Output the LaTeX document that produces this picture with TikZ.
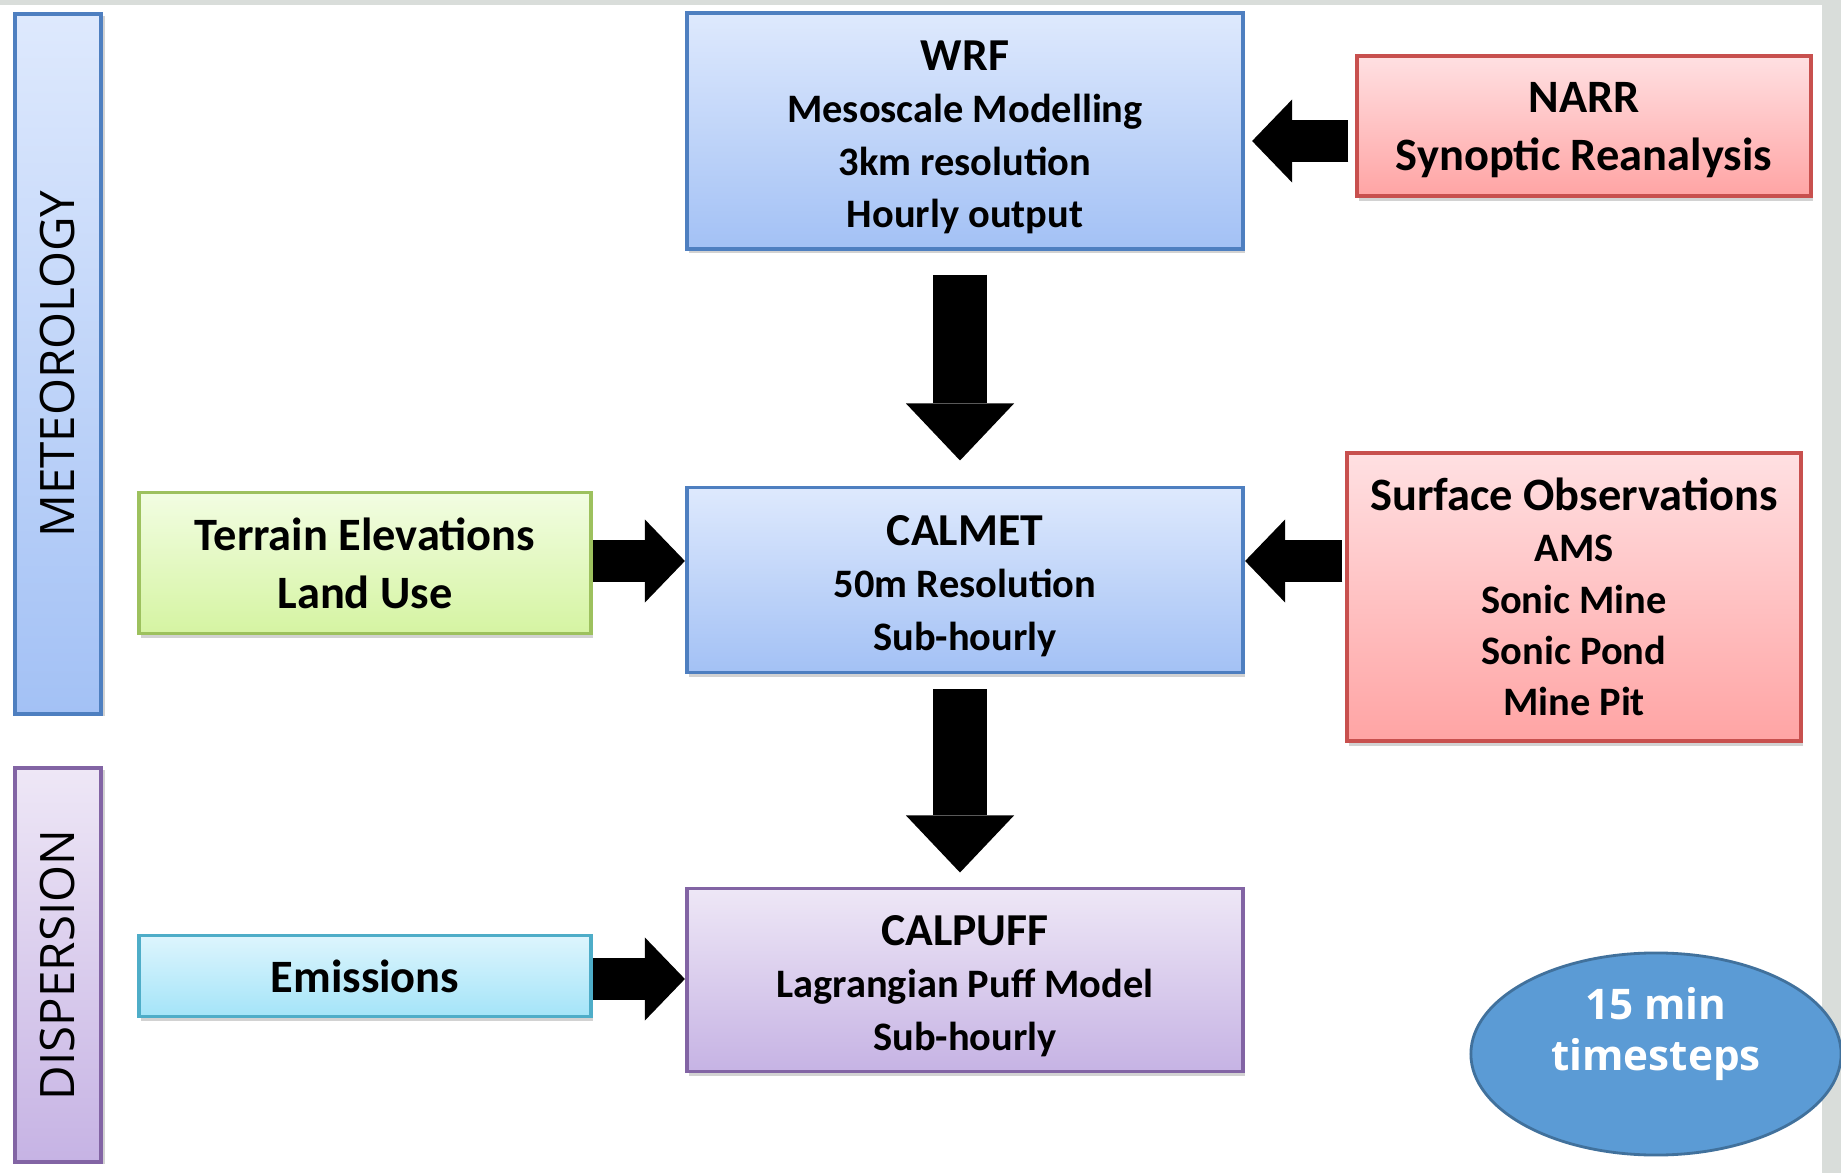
\documentclass[tikz,border=0pt]{standalone}
\usepackage{fontspec}
\setmainfont{Carlito}
\newfontfamily\opensans{Open Sans}
\usepackage{tikz}
\usetikzlibrary{shapes,calc,shadows}
\usetikzlibrary{arrows.meta}
\usetikzlibrary{positioning}
\definecolor{blueTop}{HTML}{DEE9FD}
\definecolor{blueBot}{HTML}{A3C1F5}
\definecolor{blueLine}{HTML}{4E7FC0}
\definecolor{redTop}{HTML}{FFE0E2}
\definecolor{redBot}{HTML}{FFA4A4}
\definecolor{redLine}{HTML}{C8504E}
\definecolor{greenTop}{HTML}{F2FDE2}
\definecolor{greenBot}{HTML}{D5F4A2}
\definecolor{greenLine}{HTML}{9DC15E}
\definecolor{cyanTop}{HTML}{DDF5FD}
\definecolor{cyanBot}{HTML}{A4E4F8}
\definecolor{cyanLine}{HTML}{4EADC8}
\definecolor{purpTop}{HTML}{EEE7F6}
\definecolor{purpBot}{HTML}{C6B3E4}
\definecolor{purpLine}{HTML}{8264A4}
\definecolor{stepFill}{HTML}{5B9BD5}
\definecolor{stepLine}{HTML}{41719C}
\definecolor{frameGrey}{HTML}{D9DDDA}
\tikzset{
    modelBox/.style={
        ,   rectangle
        ,   align=center
        ,   line width=1.1pt
        ,   inner sep=2pt
        ,   drop shadow={opacity=0.35, shadow xshift=0.6pt, shadow yshift=-1.4pt}
        ,   font={\fontsize{11.5pt}{14.9pt}\selectfont\bfseries}
    },
    blueBox/.style={
        ,   modelBox
        ,   top color=blueTop
        ,   bottom color=blueBot
        ,   draw=blueLine
    },
    redBox/.style={
        ,   modelBox
        ,   top color=redTop
        ,   bottom color=redBot
        ,   draw=redLine
    },
    greenBox/.style={
        ,   modelBox
        ,   top color=greenTop
        ,   bottom color=greenBot
        ,   draw=greenLine
    },
    cyanBox/.style={
        ,   modelBox
        ,   top color=cyanTop
        ,   bottom color=cyanBot
        ,   draw=cyanLine
    },
    purpBox/.style={
        ,   modelBox
        ,   top color=purpTop
        ,   bottom color=purpBot
        ,   draw=purpLine
    },
    bigText/.style={font={\fontsize{13.2pt}{16.5pt}\selectfont\bfseries}},
    sideBar/.style={ % rotated, so top is screen left
        ,   rectangle
        ,   rotate=90
        ,   line width=1.1pt
        ,   minimum height=0.86cm
        ,   drop shadow={opacity=0.35, shadow xshift=1.2pt, shadow yshift=-0.6pt}
        ,   font={\opensans\fontsize{13.5pt}{16pt}\selectfont}
    },
    fatArrow/.style={ % horizontal block arrow
        ,   line width=0.41cm
        ,   -{Triangle[length=0.40cm, width=0.83cm, line width=0pt]}
    },
    fatArrowV/.style={ % vertical block arrow
        ,   line width=0.54cm
        ,   -{Triangle[length=0.57cm, width=1.08cm, line width=0pt]}
    }
}
% first line of a box, with a strut so the block sits a little lower
\newcommand{\boxTitle}[1]{{\fontsize{13pt}{14.9pt}\selectfont\rule{0pt}{12pt}#1}}

\begin{document}
\begin{tikzpicture}[x=0.01cm, y=-0.01cm]
% frame of the slide
\fill[frameGrey] (0,0) rectangle (1841,1173);
\fill[white] (0,5) rectangle (1822,1173);
\useasboundingbox (0,0) rectangle (1841,1173);

% side bars
\node[sideBar, top color=blueTop, bottom color=blueBot, draw=blueLine, minimum width=7.00cm] (met) at (58,364) {METEOROLOGY};
\node[sideBar, top color=purpTop, bottom color=purpBot, draw=purpLine, minimum width=3.93cm] (disp) at (58,965) {DISPERSION};

% model chain
\node[blueBox, minimum width=5.56cm, minimum height=2.35cm] (wrf) at (965,131) {\boxTitle{WRF}\\ Mesoscale Modelling\\ 3km resolution\\ Hourly output};
\node[blueBox, minimum width=5.56cm, minimum height=1.85cm] (calmet) at (965,580) {\boxTitle{CALMET}\\ 50m Resolution\\ Sub-hourly};
\node[purpBox, minimum width=5.56cm, minimum height=1.83cm] (calpuff) at (965,980) {\boxTitle{CALPUFF}\\ Lagrangian Puff Model\\ Sub-hourly};

% inputs
\node[redBox, bigText, minimum width=4.53cm, minimum height=1.40cm] (narr) at (1584,126) {\rule{0pt}{11pt}NARR\\ Synoptic Reanalysis};
\node[redBox, minimum width=4.53cm, minimum height=2.88cm, font={\fontsize{11.5pt}{14.6pt}\selectfont\bfseries}] (obs) at (1574,597) {{\fontsize{13.2pt}{14.6pt}\selectfont Surface Observations}\\ AMS\\ Sonic Mine\\ Sonic Pond\\ Mine Pit};
\node[greenBox, bigText, minimum width=4.52cm, minimum height=1.41cm] (terrain) at (365,563) {Terrain Elevations\\ Land Use};
\node[cyanBox, bigText, minimum width=4.52cm, minimum height=0.81cm] (emis) at (365,976) {Emissions};

% time step, text sits a bit above the middle
\node[ellipse, fill=stepFill, draw=stepLine, line width=0.8pt, minimum width=3.70cm, minimum height=2.02cm, inner sep=0pt, text=white, font={\opensans\fontsize{12pt}{14.6pt}\selectfont\bfseries}] (tstep) at (1656,1054) {\raisebox{5.5pt}[\height][\depth]{\begin{tabular}{@{}c@{}}15 min\\ timesteps\end{tabular}}};

% block arrows
\draw[fatArrow, shorten <=0.07cm, shorten >=0.07cm] (narr.west |- 0,141) -- (wrf.east |- 0,141);
\draw[fatArrow, shorten <=0.03cm] (obs.west |- 0,561) -- (calmet.east |- 0,561);
\draw[fatArrow] (terrain.east |- 0,561) -- (calmet.west |- 0,561);
\draw[fatArrow] (emis.east |- 0,979) -- (calpuff.west |- 0,979);
\draw[fatArrowV, shorten <=0.24cm, shorten >=0.25cm] (wrf.south -| 960,0) -- (calmet.north -| 960,0);
\draw[fatArrowV, shorten <=0.15cm, shorten >=0.14cm] (calmet.south -| 960,0) -- (calpuff.north -| 960,0);
\end{tikzpicture}
\end{document}
